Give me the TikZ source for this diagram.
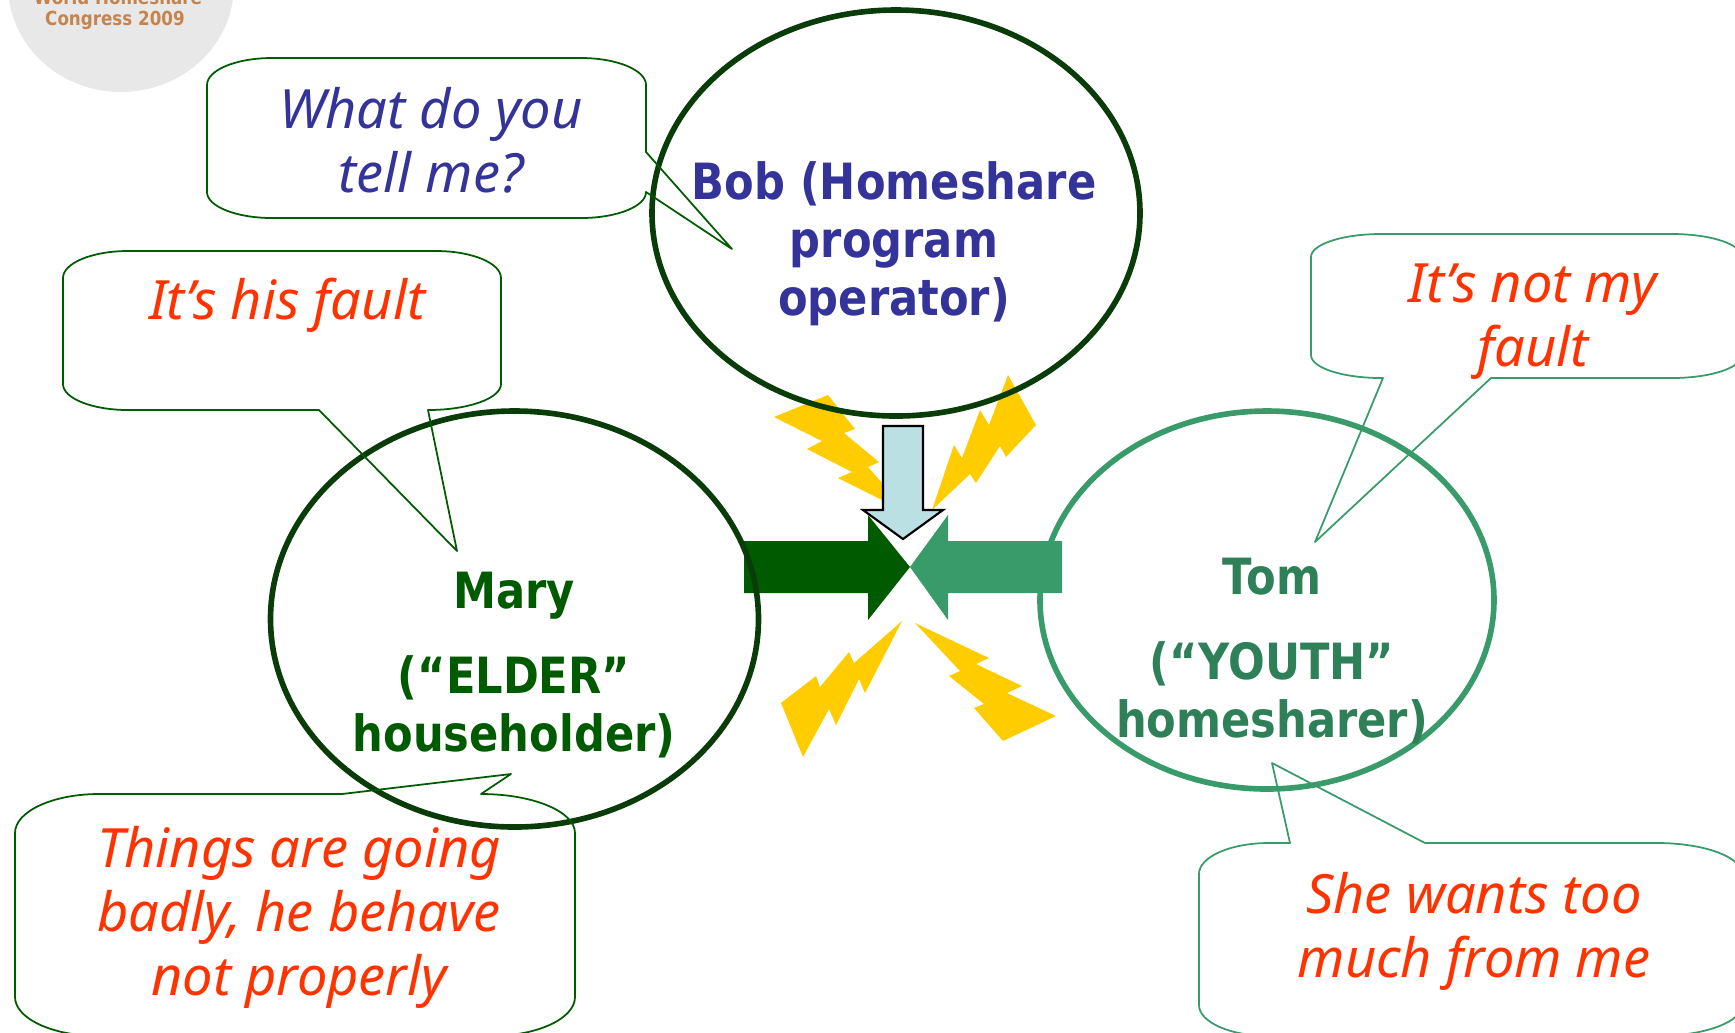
\documentclass[tikz,border=0pt]{standalone}
\usepackage{fontspec}
\setmainfont{Noto Sans}
\newfontfamily\whofont[FakeStretch=0.865]{DejaVu Sans Bold}
\definecolor{talkblue}{HTML}{333399}
\definecolor{talkred}{HTML}{FF3300}
\definecolor{darkring}{HTML}{0A3C0A}
\definecolor{elder}{HTML}{005A00}
\definecolor{youth}{HTML}{389B69}
\definecolor{youthtext}{HTML}{2E8058}
\definecolor{spark}{HTML}{FFCC00}
\definecolor{bobarrow}{HTML}{BBE0E3}
\definecolor{logotext}{HTML}{C5844E}
\tikzset{
    talk/.style={align=center, font=\fontsize{15.4}{18.2}\selectfont\itshape},
    who/.style={align=center, font=\fontsize{14.2}{16.5}\selectfont\whofont},
    logo/.style={font=\fontsize{5.5}{6}\selectfont\whofont, text=logotext},
    ring/.style={line width=1.6pt},
    bubble/.style={line width=0.5pt, line join=round},
    sparkbolt/.style={fill=spark},
}

\begin{document}
\begin{tikzpicture}[x=0.01cm, y=-0.01cm]
    \clip (0,0) rectangle (1735,1032);
    % Logo
    \fill[gray!18] (121,-15) ellipse (113 and 107);
    \node[logo] (logotop) at (118,-3) {World Homeshare};
    \node[logo] (logoyear) at (115,20) {Congress 2009};
    % Sparks
    \fill[sparkbolt] (774,417) -- (828,395) -- (855,429) -- (844,433) -- (879,462) -- (868,467) -- (884,485) -- (884,501) -- (838,478) -- (852,472) -- (807,449) -- (822,441) -- cycle;
    \fill[sparkbolt] (1008,375) -- (1036,425) -- (1006,457) -- (1000,446) -- (976,483) -- (970,474) -- (932,510) -- (954,445) -- (962,458) -- (980,410) -- (989,425) -- cycle;
    \fill[sparkbolt] (902,621) -- (865,693) -- (859,679) -- (836,725) -- (829,709) -- (803,757) -- (781,703) -- (816,676) -- (820,687) -- (849,652) -- (854,663) -- cycle;
    \fill[sparkbolt] (915,623) -- (989,658) -- (976,664) -- (1022,686) -- (1007,693) -- (1056,716) -- (1003,741) -- (974,708) -- (984,704) -- (949,676) -- (960,671) -- cycle;
    % Arrows
    \fill[elder] (744,541) -- (868,541) -- (868,515) -- (910,567) -- (868,620) -- (868,593) -- (744,593) -- cycle;
    \fill[youth] (1062,541) -- (948,541) -- (948,515) -- (910,567) -- (948,620) -- (948,593) -- (1062,593) -- cycle;
    \draw[fill=bobarrow, line width=0.6pt] (883,426) -- (923,426) -- (923,510) -- (943,510) -- (903,539) -- (863,510) -- (883,510) -- cycle;
    % Rings
    \draw[ring, darkring] (896,213) ellipse (244 and 203);
    \draw[ring, darkring] (514.5,619) ellipse (244 and 208);
    \draw[ring, youth] (1267,600) ellipse (227 and 189);
    % Bubbles
    \draw[bubble, elder] (207,85) arc[start angle=180, end angle=270, x radius=65, y radius=27] -- (581,58)
        arc[start angle=270, end angle=360, x radius=65, y radius=27] -- (646,152) -- (732,249) -- (646,192)
        arc[start angle=0, end angle=90, x radius=65, y radius=26] -- (272,218)
        arc[start angle=90, end angle=180, x radius=65, y radius=26] -- cycle;
    \draw[bubble, elder] (63,278) arc[start angle=180, end angle=270, x radius=65, y radius=27] -- (436,251)
        arc[start angle=270, end angle=360, x radius=65, y radius=27] -- (501,384)
        arc[start angle=0, end angle=90, x radius=73, y radius=26] -- (457,551) -- (319,410) -- (128,410)
        arc[start angle=90, end angle=180, x radius=65, y radius=26] -- cycle;
    \draw[bubble, elder] (15,833) arc[start angle=180, end angle=270, x radius=84, y radius=39] -- (342,794) -- (511,774) -- (481,794)
        arc[start angle=270, end angle=360, x radius=94, y radius=39] -- (575,997)
        arc[start angle=0, end angle=90, x radius=84, y radius=39] -- (99,1036)
        arc[start angle=90, end angle=180, x radius=84, y radius=39] -- cycle;
    \draw[bubble, youth] (1311,257) arc[start angle=180, end angle=270, x radius=70, y radius=23] -- (1672,234)
        arc[start angle=270, end angle=360, x radius=70, y radius=23] -- (1742,355)
        arc[start angle=0, end angle=90, x radius=70, y radius=23] -- (1491,378) -- (1315,542) -- (1383,378) -- (1381,378)
        arc[start angle=90, end angle=180, x radius=70, y radius=23] -- cycle;
    \draw[bubble, youth] (1199,874) arc[start angle=180, end angle=270, x radius=70, y radius=31] -- (1290,843) -- (1272,763) -- (1425,843) -- (1657,843)
        arc[start angle=270, end angle=360, x radius=85, y radius=31] -- (1742,1005)
        arc[start angle=0, end angle=90, x radius=85, y radius=31] -- (1269,1036)
        arc[start angle=90, end angle=180, x radius=70, y radius=31] -- cycle;
    % Labels
    \node[who, text=talkblue] (bob) at (894,244) {Bob (Homeshare\\program\\operator)};
    \node[who, text=elder] (mary) at (514,665) {Mary\\[2.7mm](“ELDER”\\householder)};
    \node[who, text=youthtext] (tom) at (1272,651) {Tom\\[2.7mm](“YOUTH”\\homesharer)};
    \node[talk, text=talkblue] (bobtalk) at (431,140) {What do you\\tell me?};
    \node[talk, text=talkred] (marytalk) at (287,305) {It’s his fault};
    \node[talk, text=talkred] (tomtalk) at (1533,322) {It’s not my\\fault};
    \node[talk, text=talkred] (marytalktwo) at (299,917) {Things are going\\badly, he behave\\not properly};
    \node[talk, text=talkred] (tomtalktwo) at (1474,931) {She wants too\\much from me};
\end{tikzpicture}
\end{document}
